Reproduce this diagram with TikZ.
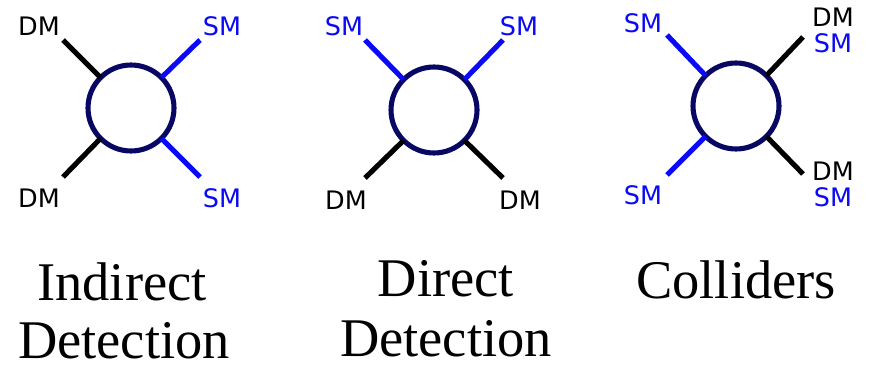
\documentclass[tikz,border=0pt]{standalone}
\usepackage{fontspec}
\setmainfont{Liberation Serif}
\newfontfamily\cimkefont{DejaVu Sans}
\usepackage{tikz}
\usetikzlibrary{positioning}
\definecolor{sotetkek}{RGB}{8,8,100}
\definecolor{smkek}{RGB}{10,10,245}
\tikzset{
  kor/.style={circle,draw=sotetkek,line width=2.9pt,minimum size=1.72cm,inner sep=0pt,outer sep=0pt},
  dmvonal/.style={line width=2.9pt,black},
  smvonal/.style={line width=2.9pt,smkek},
  cimke/.style={font=\cimkefont\fontsize{14.5}{16}\selectfont,inner sep=0pt},
  felirat/.style={font=\fontsize{31}{36}\selectfont,anchor=base,inner sep=0pt},
}
\begin{document}
\begin{tikzpicture}[x=0.02cm,y=-0.02cm]
  \useasboundingbox (0,0) rectangle (871,368);
  % annihilacio
  \node[kor] (k1) at (131,108) {};
  \coordinate (a1) at (63,40);   \coordinate (b1) at (200,40);
  \coordinate (c1) at (63,177);  \coordinate (d1) at (200,177);
  \draw[dmvonal] (a1) -- (k1.135);
  \draw[smvonal] (b1) -- (k1.45);
  \draw[dmvonal] (c1) -- (k1.225);
  \draw[smvonal] (d1) -- (k1.315);
  \node[cimke] (l1a) at (39,26) {DM};
  \node[cimke,smkek] (l1b) at (222,26) {SM};
  \node[cimke] (l1c) at (39,198) {DM};
  \node[cimke,smkek] (l1d) at (222,198) {SM};
  % szoras
  \node[kor] (k2) at (434,110) {};
  \coordinate (a2) at (365,40);  \coordinate (b2) at (503,40);
  \coordinate (c2) at (365,178); \coordinate (d2) at (503,178);
  \draw[smvonal] (a2) -- (k2.135);
  \draw[smvonal] (b2) -- (k2.45);
  \draw[dmvonal] (c2) -- (k2.225);
  \draw[dmvonal] (d2) -- (k2.315);
  \node[cimke,smkek] (l2a) at (344,26) {SM};
  \node[cimke,smkek] (l2b) at (519,26) {SM};
  \node[cimke] (l2c) at (346,200) {DM};
  \node[cimke] (l2d) at (520,200) {DM};
  % keltes
  \node[kor] (k3) at (736,106) {};
  \coordinate (a3) at (667,35);  \coordinate (b3) at (803,37);
  \coordinate (c3) at (667,175); \coordinate (d3) at (803,174);
  \draw[smvonal] (a3) -- (k3.135);
  \draw[dmvonal] (b3) -- (k3.45);
  \draw[smvonal] (c3) -- (k3.225);
  \draw[dmvonal] (d3) -- (k3.315);
  \node[cimke,smkek] (l3a) at (643,23) {SM};
  \node[cimke] (l3b) at (833,17) {DM};
  \node[cimke,smkek] (l3c) at (833,43) {SM};
  \node[cimke,smkek] (l3d) at (643,195) {SM};
  \node[cimke] (l3e) at (833,171) {DM};
  \node[cimke,smkek] (l3f) at (833,197) {SM};
  % feliratok
  \node[felirat] (f1) at (122,300) {Indirect};
  \node[felirat] (f2) at (124,358) {Detection};
  \node[felirat] (f3) at (446,296) {Direct};
  \node[felirat] (f4) at (446,356) {Detection};
  \node[felirat] (f5) at (736,298) {Colliders};
\end{tikzpicture}
\end{document}
